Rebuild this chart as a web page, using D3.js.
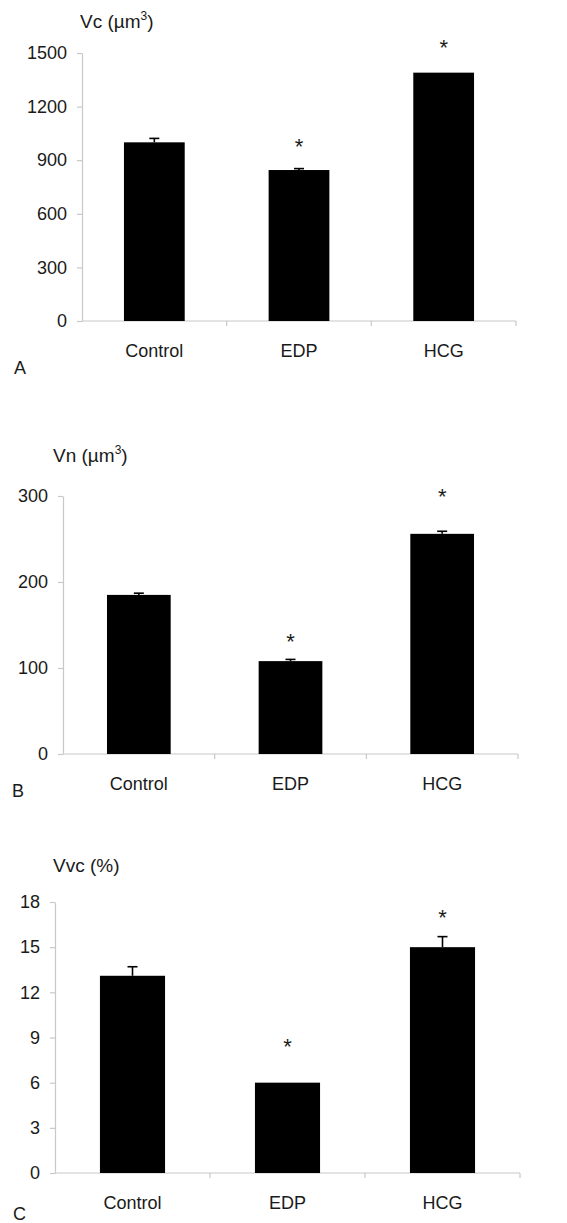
<!DOCTYPE html>
<html>
<head>
<meta charset="utf-8">
<script src="https://cdn.jsdelivr.net/npm/d3@7"></script>
<style>
  body { margin: 0; background: #fff; }
  svg text { font-family: "Liberation Sans", Arial, sans-serif; fill: #1a1a1a; }
</style>
</head>
<body>
<svg id="chart" width="567" height="1223"></svg>
<script>
// data
const groups = ["Control", "EDP", "HCG"];

const vcValues = [1000, 845, 1390];
const vcErrors = [22, 8, 0];
const vcStars = [null, 1000, 1555];
const vcTicks = [0, 300, 600, 900, 1200, 1500];

const vnValues = [185, 108, 256];
const vnErrors = [2, 2, 3];
const vnStars = [null, 136, 305];
const vnTicks = [0, 100, 200, 300];

const vvcValues = [13.1, 6.0, 15.0];
const vvcErrors = [0.6, 0, 0.7];
const vvcStars = [null, 8.7, 17.3];
const vvcTicks = [0, 3, 6, 9, 12, 15, 18];

const svg = d3.select("#chart");

function drawPanel(p) {
    const g = svg.append("g");
    const yMax = p.ticks[p.ticks.length - 1];

    const x = d3.scaleBand()
        .domain(groups)
        .range([p.left, p.right])
        .paddingInner(0.58)
        .paddingOuter(0.29);

    const y = d3.scaleLinear()
        .domain([0, yMax])
        .range([p.bottom, p.top]);

    const step = (p.right - p.left) / groups.length;

    // y axis
    const yAxis = g.append("g")
        .attr("transform", `translate(${p.left},0)`)
        .call(d3.axisLeft(y).tickValues(p.ticks).tickFormat(d3.format("d"))
            .tickSize(5).tickPadding(10).tickSizeOuter(0));
    yAxis.select(".domain").attr("stroke", "#c8c8c8").attr("stroke-width", 1.2);
    yAxis.selectAll(".tick line").attr("stroke", "#c8c8c8").attr("stroke-width", 1.2);
    yAxis.selectAll(".tick text").style("font-size", "18px").attr("fill", "#1a1a1a");

    // x axis line + boundary ticks
    g.append("line")
        .attr("x1", p.left).attr("x2", p.right)
        .attr("y1", y(0)).attr("y2", y(0))
        .attr("stroke", "#c8c8c8").attr("stroke-width", 1.2);
    g.selectAll(".xb")
        .data(d3.range(1, groups.length + 1))
        .enter().append("line")
        .attr("x1", d => p.left + d * step).attr("x2", d => p.left + d * step)
        .attr("y1", y(0)).attr("y2", y(0) + 5)
        .attr("stroke", "#c8c8c8").attr("stroke-width", 1.2);

    // category labels
    g.selectAll(".cat")
        .data(groups)
        .enter().append("text")
        .attr("x", d => x(d) + x.bandwidth() / 2)
        .attr("y", y(0) + 36)
        .attr("text-anchor", "middle")
        .style("font-size", "18px")
        .text(d => d);

    // bars
    g.selectAll(".bar")
        .data(groups)
        .enter().append("rect")
        .attr("x", d => x(d))
        .attr("y", (d, i) => y(p.values[i]))
        .attr("width", x.bandwidth())
        .attr("height", (d, i) => y(0) - y(p.values[i]))
        .attr("fill", "#000");

    // error bars (upper only)
    groups.forEach((d, i) => {
        if (!p.errors[i]) return;
        const cx = x(d) + x.bandwidth() / 2;
        const top = y(p.values[i] + p.errors[i]);
        g.append("line")
            .attr("x1", cx).attr("x2", cx)
            .attr("y1", y(p.values[i])).attr("y2", top)
            .attr("stroke", "#000").attr("stroke-width", 1.6);
        g.append("line")
            .attr("x1", cx - 5).attr("x2", cx + 5)
            .attr("y1", top).attr("y2", top)
            .attr("stroke", "#000").attr("stroke-width", 1.6);
    });

    // significance stars
    groups.forEach((d, i) => {
        if (p.stars[i] == null) return;
        g.append("text")
            .attr("x", x(d) + x.bandwidth() / 2)
            .attr("y", y(p.stars[i]) + 12)
            .attr("text-anchor", "middle")
            .style("font-size", "22px")
            .text("*");
    });

    // axis title
    const t = g.append("text")
        .attr("x", p.titleX)
        .attr("y", p.titleY)
        .style("font-size", "19px");
    t.append("tspan").text(p.title);
    if (p.sup) {
        t.append("tspan").attr("dy", -8).style("font-size", "12px").text(p.sup);
        t.append("tspan").attr("dy", 8).text(")");
    }

    // panel letter
    g.append("text")
        .attr("x", p.letterX)
        .attr("y", p.letterY)
        .style("font-size", "18px")
        .text(p.letter);
}

drawPanel({
    values: vcValues, errors: vcErrors, stars: vcStars, ticks: vcTicks,
    left: 82, right: 516, top: 53, bottom: 321,
    title: "Vc (µm", sup: "3", titleX: 80, titleY: 28,
    letter: "A", letterX: 14, letterY: 374
});

drawPanel({
    values: vnValues, errors: vnErrors, stars: vnStars, ticks: vnTicks,
    left: 63, right: 518, top: 496, bottom: 754,
    title: "Vn (µm", sup: "3", titleX: 53, titleY: 462,
    letter: "B", letterX: 12, letterY: 797
});

drawPanel({
    values: vvcValues, errors: vvcErrors, stars: vvcStars, ticks: vvcTicks,
    left: 55, right: 520, top: 902, bottom: 1173,
    title: "Vvc (%)", sup: null, titleX: 53, titleY: 872,
    letter: "C", letterX: 13, letterY: 1220
});
</script>
</body>
</html>
